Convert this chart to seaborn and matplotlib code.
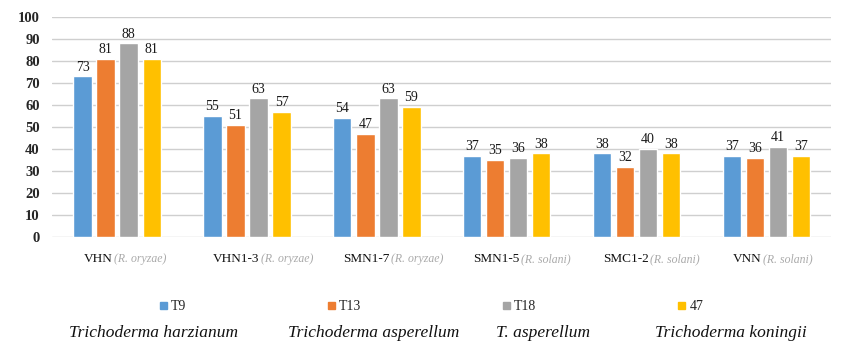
import pandas as pd
import seaborn as sns
import matplotlib.pyplot as plt

# data
isolates = ["VHN", "VHN1-3", "SMN1-7", "SMN1-5", "SMC1-2", "VNN"]
hosts = ["(R. oryzae)", "(R. oryzae)", "(R. oryzae)", "(R. solani)", "(R. solani)", "(R. solani)"]
series = ["T9", "T13", "T18", "47"]
t9 = [73, 55, 54, 37, 38, 37]
t13 = [81, 51, 47, 35, 32, 36]
t18 = [88, 63, 63, 36, 40, 41]
s47 = [81, 57, 59, 38, 38, 37]
species = ["Trichoderma harzianum", "Trichoderma asperellum", "T. asperellum", "Trichoderma koningii"]

colors = ["#5B9BD5", "#ED7D31", "#A5A5A5", "#FFC000"]

rows = []
for name, vals in zip(series, [t9, t13, t18, s47]):
    for iso, v in zip(isolates, vals):
        rows.append({"isolate": iso, "series": name, "value": v})
df = pd.DataFrame(rows)

sns.set_style("white")
plt.rcParams["font.family"] = ["Liberation Serif", "DejaVu Serif"]

fig = plt.figure(figsize=(8.43, 3.46), dpi=100)
ax = fig.add_axes([0.062, 0.315, 0.924, 0.636])

sns.barplot(data=df, x="isolate", y="value", hue="series", order=isolates,
            hue_order=series, palette=colors, width=0.71, gap=0.2,
            saturation=1, ax=ax, legend=False)

for c in ax.containers:
    ax.bar_label(c, fontsize=10, color="#1a1a1a", padding=2)

ax.set_ylim(0, 100)
ax.set_xlim(-0.5, 5.5)
ax.set_yticks(range(0, 101, 10))
ax.tick_params(axis="y", labelsize=10.5, length=0, pad=9)
for t in ax.get_yticklabels():
    t.set_fontweight("bold")
ax.yaxis.grid(True, color="#cfcfcf", lw=1)
ax.set_axisbelow(True)
for s in ax.spines.values():
    s.set_visible(False)
ax.set_xlabel("")
ax.set_ylabel("")
ax.set_xticks(range(len(isolates)))
ax.set_xticklabels([])
ax.tick_params(axis="x", length=0)

# two-tone category labels
for i, (iso, host) in enumerate(zip(isolates, hosts)):
    t = ax.annotate(iso, xy=(i - 0.26, 0), xycoords=("data", "axes fraction"),
                    xytext=(0, -16), textcoords="offset points", ha="left",
                    va="center", fontsize=9.5, color="#111111")
    ax.annotate(host, xy=(1, 0.5), xycoords=t, xytext=(1, 0),
                textcoords="offset points", ha="left", va="center",
                fontsize=8.5, style="italic", color="#aaaaaa")

handles = [plt.Rectangle((0, 0), 1, 1, color=c) for c in colors]
fig.legend(handles, series, loc="center", bbox_to_anchor=(0.512, 0.113), ncol=4,
           frameon=False, fontsize=10, handlelength=0.5, handleheight=0.5,
           handletextpad=0.3, columnspacing=10.2, borderpad=0)

for x, name in zip([0.182, 0.443, 0.644, 0.867], species):
    fig.text(x, 0.038, name, ha="center", va="center", fontsize=12.5,
             style="italic", color="#111111")

fig.savefig("out.png", dpi=100)
